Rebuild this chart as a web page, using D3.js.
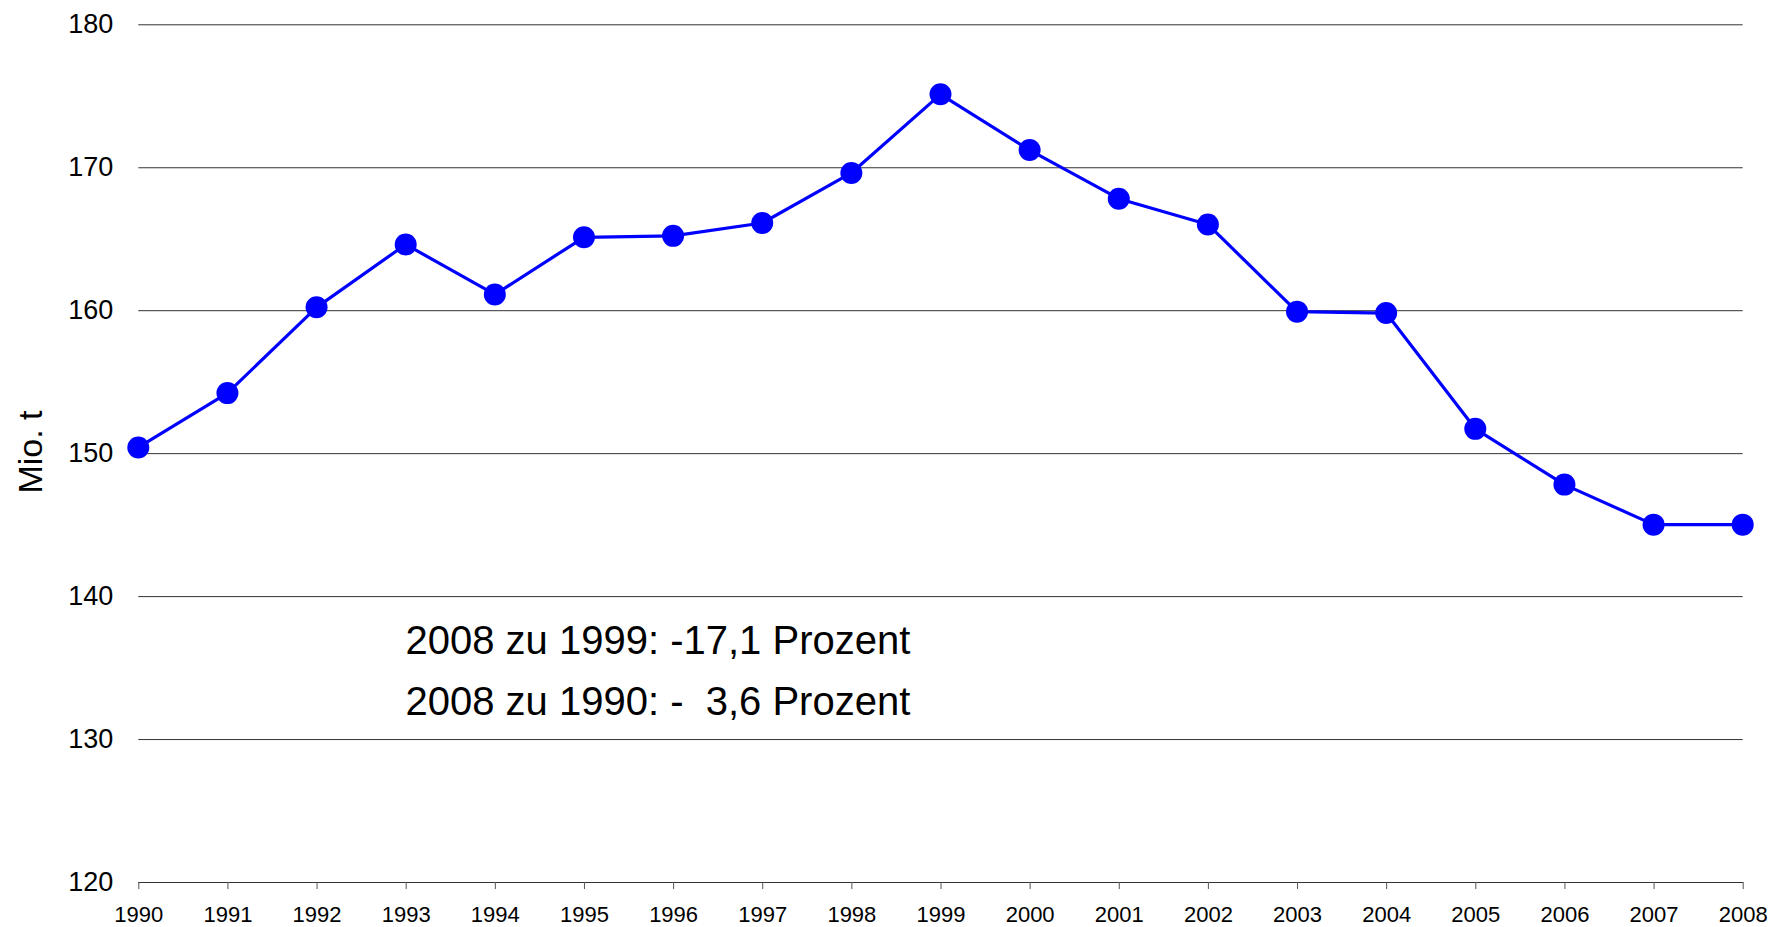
<!DOCTYPE html>
<html>
<head>
<meta charset="utf-8">
<script src="https://cdn.jsdelivr.net/npm/d3@7"></script>
<style>
  html, body { margin: 0; padding: 0; background: #fff; }
  svg { display: block; font-family: "Liberation Sans", Arial, Helvetica, sans-serif; }
</style>
</head>
<body>
<div id="outlet"></div>
<script>
// data
const years = [1990, 1991, 1992, 1993, 1994, 1995, 1996, 1997, 1998, 1999,
               2000, 2001, 2002, 2003, 2004, 2005, 2006, 2007, 2008];
const values = [150.4, 154.2, 160.2, 164.6, 161.1, 165.1, 165.2, 166.1, 169.6, 175.1,
                171.2, 167.8, 166.0, 159.9, 159.8, 151.7, 147.8, 145.0, 145.0];
const yTicks = [120, 130, 140, 150, 160, 170, 180];
const yLabel = "Mio. t";
const notes = ["2008 zu 1999: -17,1 Prozent", "2008 zu 1990: -  3,6 Prozent"];

const width = 1771, height = 927;
const marginLeft = 138.3, marginRight = 28.3, marginTop = 24.3, marginBottom = 45;

const x = d3.scaleLinear().domain([1990, 2008]).range([marginLeft, width - marginRight]);
const y = d3.scaleLinear().domain([120, 180]).range([height - marginBottom, marginTop]);

const svg = d3.select("#outlet")
  .append("svg")
  .attr("width", width)
  .attr("height", height)
  .attr("viewBox", [0, 0, width, height]);

// y axis with gridlines
svg.append("g")
  .attr("transform", `translate(${marginLeft},0)`)
  .call(d3.axisLeft(y).tickValues(yTicks).tickSize(-(width - marginLeft - marginRight)).tickPadding(25))
  .call(g => g.select(".domain").remove())
  .call(g => g.selectAll(".tick line").attr("stroke", "#333").attr("stroke-width", 1))
  .call(g => g.selectAll(".tick text")
    .attr("font-size", 27)
    .attr("fill", "#000")
    .attr("font-family", null));

// x axis
svg.append("g")
  .attr("transform", `translate(0,${y(120)})`)
  .call(d3.axisBottom(x).tickValues(years).tickFormat(d3.format("d")).tickSize(7).tickSizeOuter(0).tickPadding(17))
  .call(g => g.select(".domain").attr("stroke", "#333"))
  .call(g => g.selectAll(".tick line").attr("stroke", "#555"))
  .call(g => g.selectAll(".tick text")
    .attr("font-size", 22)
    .attr("fill", "#000")
    .attr("font-family", null));

// y label
svg.append("text")
  .attr("transform", "translate(41.7,452) rotate(-90)")
  .attr("text-anchor", "middle")
  .attr("font-size", 34)
  .attr("fill", "#000")
  .text(yLabel);

// line + dots
const line = d3.line()
  .x((d, i) => x(years[i]))
  .y(d => y(d));

svg.append("path")
  .datum(values)
  .attr("fill", "none")
  .attr("stroke", "#0000ff")
  .attr("stroke-width", 3.2)
  .attr("stroke-linejoin", "round")
  .attr("d", line);

svg.append("g")
  .attr("fill", "#0000ff")
  .selectAll("circle")
  .data(values)
  .join("circle")
  .attr("cx", (d, i) => x(years[i]))
  .attr("cy", d => y(d))
  .attr("r", 11);

// annotations
svg.append("g")
  .selectAll("text")
  .data(notes)
  .join("text")
  .attr("x", 405.5)
  .attr("y", (d, i) => 654 + i * 61)
  .attr("font-size", 40)
  .attr("fill", "#000")
  .style("white-space", "pre")
  .text(d => d);
</script>
</body>
</html>
